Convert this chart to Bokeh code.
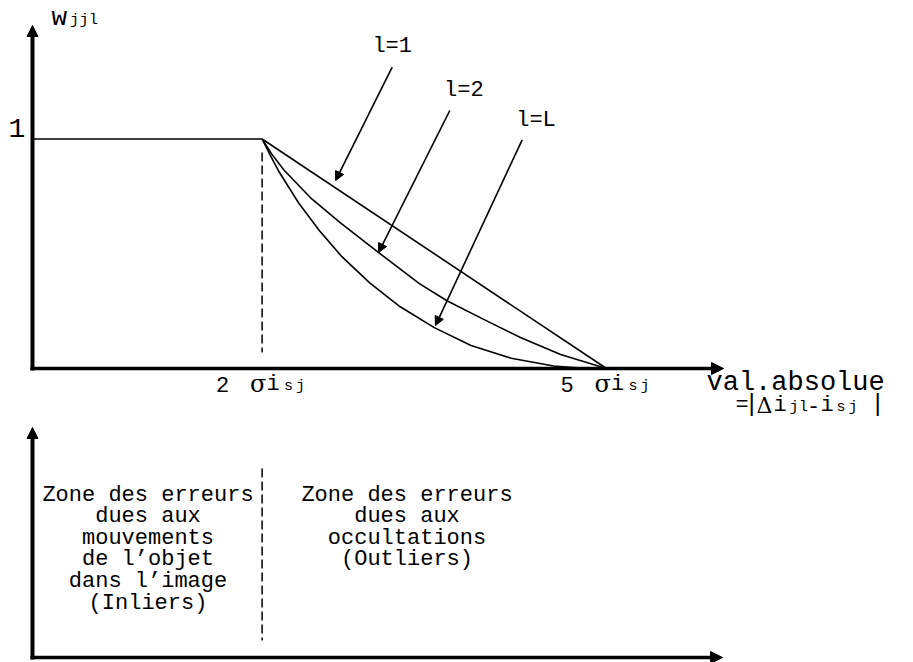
from bokeh.plotting import figure
from bokeh.models import Range1d, Arrow, NormalHead
from bokeh.core.properties import value
from bokeh.embed import file_html
from bokeh.resources import INLINE

# ---- data: weight w_jjl as a function of the absolute deviation (sigma units) ----
plateau_x = [0.0, 2.0]
plateau_w = [1.0, 1.0]

l1_x = [2.0, 5.0]
l1_w = [1.0, 0.0]

l2_x = [2.0, 2.09, 2.19, 2.42, 2.68, 3.01, 3.37, 3.61, 3.93, 4.25, 4.6, 5.0]
l2_w = [1.0, 0.93, 0.865, 0.745, 0.636, 0.507, 0.37, 0.295, 0.214, 0.135, 0.061, 0.0]

lL_x = [2.0, 2.075, 2.15, 2.32, 2.5, 2.69, 2.94, 3.2, 3.5, 3.82, 4.17, 4.54, 4.77, 5.0]
lL_w = [1.0, 0.925, 0.855, 0.72, 0.6, 0.49, 0.372, 0.27, 0.178, 0.1, 0.045, 0.011, 0.002, 0.0]

sigma_ticks = [2, 5]
tick_digits = ["2", "5"]
inlier_bound = 2

curve_labels = ["l=1", "l=2", "l=L"]
# point on each curve that the label arrow designates
arrow_tip_x = [2.64, 3.014, 3.51]
arrow_tip_w = [0.819, 0.505, 0.187]

zone_inliers = ["Zone des erreurs", "dues aux", "mouvements",
                "de l\u2019objet", "dans l\u2019image", "(Inliers)"]
zone_outliers = ["Zone des erreurs", "dues aux", "occultations",
                 "(Outliers)"]

# ---- layout helpers: pixel positions on the 913x662 canvas -> data units ----
W, H = 913, 662
PX0, UX = 32.0, 114.8     # pixel column of x=0, pixels per sigma
PY0, UY = 368.0, 229.5    # pixel row of w=0, pixels per unit weight
BASE_K = 0.25             # baseline correction, fraction of font size


def dx(px):
    return (px - PX0) / UX


def dy(py):
    return (PY0 - py) / UY


MONO = "Liberation Mono"
SERIF = "DejaVu Serif"

p = figure(width=W, height=H, output_backend="svg", toolbar_location=None,
           x_range=Range1d(dx(0), dx(W)), y_range=Range1d(dy(H), dy(0)),
           x_axis_location=None, y_axis_location=None, min_border=0)
p.grid.visible = False
p.outline_line_color = None
p.background_fill_color = "white"
p.border_fill_color = "white"


def put(px, py, s, size, font=MONO, align="left"):
    """Text whose baseline sits at pixel row py."""
    p.text(x=[dx(px)], y=[dy(py - BASE_K * size)], text=[s],
           text_font=value(font), text_font_size=value(f"{size}px"),
           text_align=align, text_baseline="alphabetic", text_color="black")


def sub(px, py, s, size=15, step=11.5):
    """Small index letters, spaced one by one."""
    for k, ch in enumerate(s):
        put(px + k * step, py, ch, size)


def axis_arrow(x0, y0, x1, y1, size, lw):
    p.add_layout(Arrow(x_start=x0, y_start=y0, x_end=x1, y_end=y1,
                       line_width=lw, line_color="black",
                       end=NormalHead(size=size, fill_color="black",
                                      line_color="black", line_width=1)))


# ---- upper panel: axes ----
axis_arrow(0, dy(370), 0, dy(25), 11, 4)
axis_arrow(dx(30), 0, dx(723), 0, 12, 3.5)

# curves
p.line(plateau_x, plateau_w, line_color="black", line_width=1.6)
p.line(l1_x, l1_w, line_color="black", line_width=1.6)
p.line(l2_x, l2_w, line_color="black", line_width=1.6, line_join="round")
p.line(lL_x, lL_w, line_color="black", line_width=1.6, line_join="round")

# threshold between inliers and outliers
p.line([inlier_bound, inlier_bound], [dy(152), dy(352)], line_color="black",
       line_width=1.5, line_dash="9 4")

# labels with arrows pointing to each curve
label_pos = [(391.7, 51.7), (463.3, 95.0), (535.5, 125.0)]
tail_pos = [(391.7, 66.7), (449.3, 110.0), (521.7, 139.3)]
for lab, (lx, ly), (tx, ty), hx, hw in zip(curve_labels, label_pos, tail_pos,
                                          arrow_tip_x, arrow_tip_w):
    put(lx, ly, lab, 22, align="center")
    p.add_layout(Arrow(x_start=dx(tx), y_start=dy(ty), x_end=hx, y_end=hw,
                       line_width=1.6, line_color="black",
                       end=NormalHead(size=9, fill_color="black",
                                      line_color="black", line_width=1)))

# y-axis title and tick
put(51, 23.5, "w", 26)
sub(69.5, 23.5, "jjl", 15, 9.5)
put(16.5, PY0 - UY * 1.0 - 4, "1", 28, align="center")

# x ticks: "2 σi_sj", "5 σi_sj"
for t, d in zip(sigma_ticks, tick_digits):
    tx = PX0 + t * UX
    put(tx - 46, 389, d, 22)
    put(tx - 12, 389, "\u03c3", 24, font=SERIF)
    put(tx + 4.5, 389, "i", 22)
    sub(tx + 22, 390, "sj", 15, 12)

# x-axis title
put(706, 389, "val.absolue", 27)
for s, px, size, font in [("=", 735, 22, MONO), ("|", 744, 24, MONO),
                          ("\u0394", 756, 22, SERIF), ("i", 773, 22, MONO)]:
    put(px, 410, s, size, font=font)
sub(789, 411, "jl", 15, 9.5)
put(806.5, 410, "-", 22)
put(820, 410, "i", 22)
sub(836, 411, "sj", 15, 12)
put(870, 410, "|", 24)

# ---- lower panel: error zones ----
axis_arrow(0, dy(659), 0, dy(427), 11, 4)
axis_arrow(dx(30), dy(657), dx(722), dy(657), 12, 3.5)
p.line([inlier_bound, inlier_bound], [dy(468), dy(640)], line_color="black",
       line_width=1.5, line_dash="9 4")

line_step = 21.6
for i, s in enumerate(zone_inliers):
    put(147.5, 500 + i * line_step, s, 22, align="center")
for i, s in enumerate(zone_outliers):
    put(406.5, 500 + i * line_step, s, 22, align="center")

open("out.html", "w").write(file_html(p, INLINE))
